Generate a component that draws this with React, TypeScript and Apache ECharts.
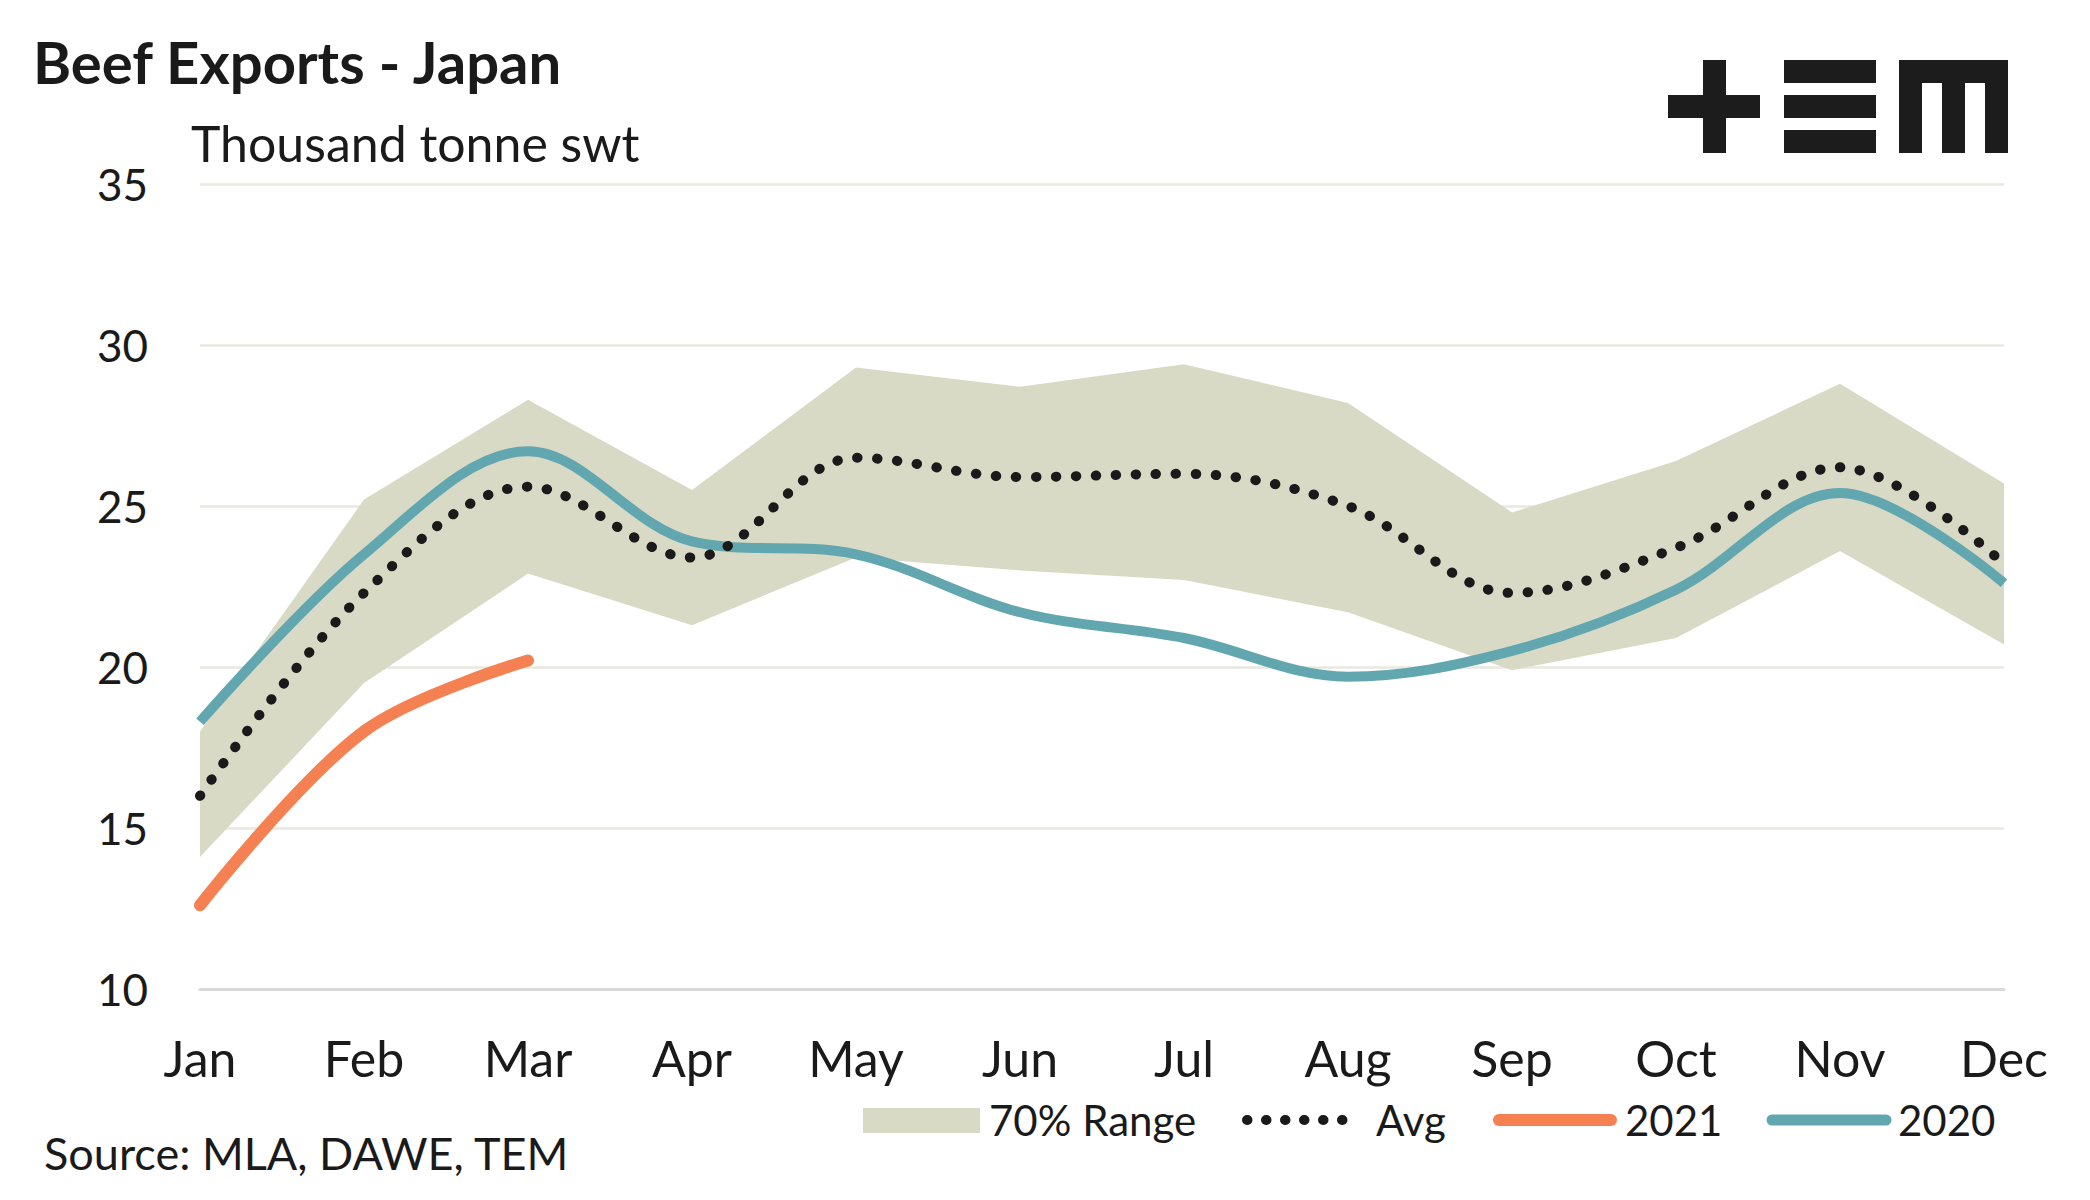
import React, { useEffect, useRef } from "react";
import * as echarts from "echarts";

const months = ["Jan", "Feb", "Mar", "Apr", "May", "Jun", "Jul", "Aug", "Sep", "Oct", "Nov", "Dec"];
const rangeLower = [14.1, 19.5, 22.9, 21.3, 23.4, 23.0, 22.7, 21.7, 19.9, 20.9, 23.6, 20.7];
const rangeUpper = [18.0, 25.2, 28.3, 25.5, 29.3, 28.7, 29.4, 28.2, 24.8, 26.4, 28.8, 25.7];
const avg = [16.0, 22.3, 25.6, 23.4, 26.5, 25.9, 26.0, 25.0, 22.3, 23.7, 26.2, 23.2];
const y2020 = [18.3, 23.5, 26.7, 23.9, 23.5, 21.7, 20.9, 19.7, 20.5, 22.4, 25.4, 22.6];
const y2021 = [12.6, 18.0, 20.2];
const yTicks = { min: 10, max: 35, interval: 5 };

const FONT = "Lato, 'Noto Sans', sans-serif";
const TXT = "#1a1a1a";
const BAND = "#d9dac5";
const TEAL = "#62a7b0";
const ORANGE = "#f58152";

export default function App() {
  const ref = useRef<HTMLDivElement>(null);
  useEffect(() => {
    if (!ref.current) return;
    const chart = echarts.init(ref.current, undefined, { renderer: "svg" });
    const legendY = 1120;
    chart.setOption({
      animation: false,
      backgroundColor: "#ffffff",
      textStyle: { fontFamily: FONT, color: TXT },
      grid: { left: 200, right: 86, top: 184, bottom: 211, containLabel: false },
      xAxis: {
        type: "category",
        data: months,
        boundaryGap: false,
        axisLine: { lineStyle: { color: "#d9d9d9", width: 3 } },
        axisTick: { show: false },
        axisLabel: { color: TXT, fontSize: 50, fontFamily: FONT, margin: 44 },
      },
      yAxis: {
        type: "value",
        min: yTicks.min,
        max: yTicks.max,
        interval: yTicks.interval,
        axisLine: { show: false },
        axisTick: { show: false },
        axisLabel: { color: TXT, fontSize: 44, fontFamily: FONT, margin: 52 },
        splitLine: { lineStyle: { color: "#e9e9e0", width: 2.5 } },
      },
      series: [
        {
          name: "rangeBase",
          type: "line",
          data: rangeLower,
          stack: "band",
          symbol: "none",
          lineStyle: { opacity: 0 },
          areaStyle: { opacity: 0 },
          silent: true,
        },
        {
          name: "70% Range",
          type: "line",
          data: rangeUpper.map((u, i) => +(u - rangeLower[i]).toFixed(2)),
          stack: "band",
          symbol: "none",
          lineStyle: { opacity: 0 },
          areaStyle: { color: BAND, opacity: 1 },
          silent: true,
        },
        {
          name: "2020",
          type: "line",
          data: y2020,
          smooth: 0.35,
          symbol: "none",
          lineStyle: { color: TEAL, width: 10 },
        },
        {
          name: "Avg",
          type: "line",
          data: avg,
          smooth: 0.35,
          symbol: "none",
          lineStyle: { color: TXT, width: 10, type: [0.5, 19.5], cap: "round" },
        },
        {
          name: "2021",
          type: "line",
          data: y2021,
          smooth: 0.35,
          symbol: "none",
          lineStyle: { color: ORANGE, width: 12, cap: "round" },
        },
      ],
      graphic: [
        {
          type: "text",
          left: 33,
          top: 32,
          style: { text: "Beef Exports - Japan", font: `bold 58px ${FONT}`, fill: TXT },
        },
        {
          type: "text",
          left: 191,
          top: 118,
          style: { text: "Thousand tonne swt", font: `50px ${FONT}`, fill: TXT },
        },
        {
          type: "text",
          left: 44,
          top: 1130,
          style: { text: "Source: MLA, DAWE, TEM", font: `45px ${FONT}`, fill: TXT },
        },
        // legend
        { type: "rect", shape: { x: 863, y: 1108, width: 117, height: 25 }, style: { fill: BAND } },
        { type: "text", x: 989, y: legendY, style: { text: "70% Range", font: `42px ${FONT}`, fill: TXT, verticalAlign: "middle" } },
        {
          type: "line",
          shape: { x1: 1247, y1: legendY, x2: 1357, y2: legendY },
          style: { stroke: TXT, lineWidth: 10, lineDash: [0.5, 18.5], lineCap: "round" },
        },
        { type: "text", x: 1376, y: legendY, style: { text: "Avg", font: `42px ${FONT}`, fill: TXT, verticalAlign: "middle" } },
        {
          type: "line",
          shape: { x1: 1499, y1: legendY, x2: 1611, y2: legendY },
          style: { stroke: ORANGE, lineWidth: 12, lineCap: "round" },
        },
        { type: "text", x: 1625, y: legendY, style: { text: "2021", font: `42px ${FONT}`, fill: TXT, verticalAlign: "middle" } },
        {
          type: "line",
          shape: { x1: 1772, y1: legendY, x2: 1886, y2: legendY },
          style: { stroke: TEAL, lineWidth: 11, lineCap: "round" },
        },
        { type: "text", x: 1898, y: legendY, style: { text: "2020", font: `42px ${FONT}`, fill: TXT, verticalAlign: "middle" } },
        // logo
        {
          type: "group",
          children: [
            { type: "rect", shape: { x: 1703, y: 60, width: 23, height: 93 }, style: { fill: "#1c1c1c" } },
            { type: "rect", shape: { x: 1668, y: 95, width: 92, height: 23 }, style: { fill: "#1c1c1c" } },
            { type: "rect", shape: { x: 1784, y: 60, width: 92, height: 23 }, style: { fill: "#1c1c1c" } },
            { type: "rect", shape: { x: 1784, y: 95, width: 92, height: 23 }, style: { fill: "#1c1c1c" } },
            { type: "rect", shape: { x: 1784, y: 130, width: 92, height: 23 }, style: { fill: "#1c1c1c" } },
            { type: "rect", shape: { x: 1899, y: 60, width: 109, height: 23 }, style: { fill: "#1c1c1c" } },
            { type: "rect", shape: { x: 1899, y: 60, width: 23, height: 93 }, style: { fill: "#1c1c1c" } },
            { type: "rect", shape: { x: 1942, y: 60, width: 23, height: 93 }, style: { fill: "#1c1c1c" } },
            { type: "rect", shape: { x: 1985, y: 60, width: 23, height: 93 }, style: { fill: "#1c1c1c" } },
          ],
        },
      ],
    });
    return () => chart.dispose();
  }, []);
  return <div ref={ref} style={{ position: "fixed", left: 0, top: 0, width: 2090, height: 1200 }} />;
}
